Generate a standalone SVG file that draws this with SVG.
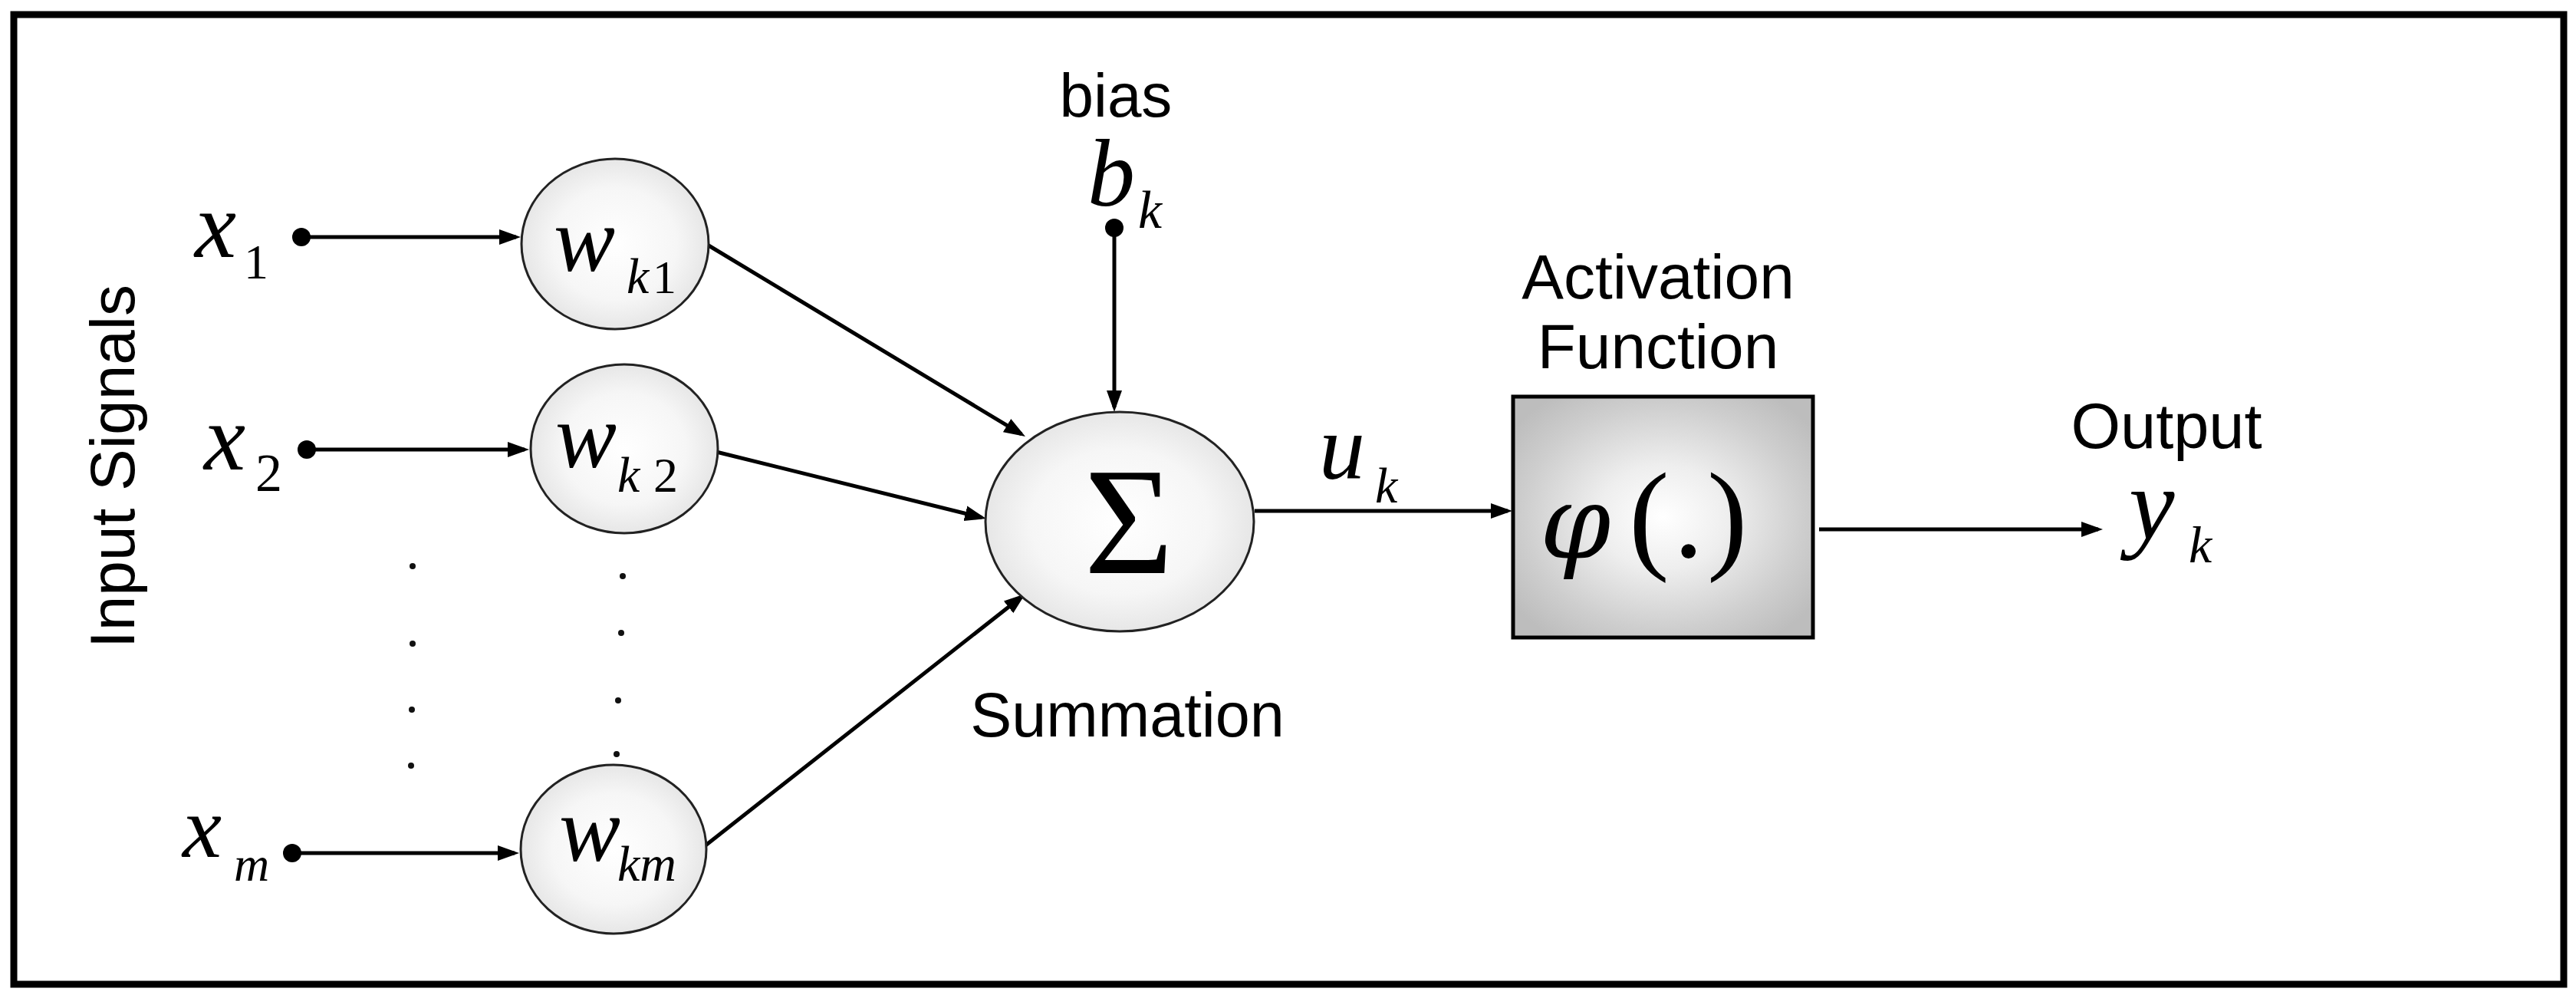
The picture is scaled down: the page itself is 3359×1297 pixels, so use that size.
<svg xmlns="http://www.w3.org/2000/svg" width="3359" height="1297" viewBox="0 0 3359 1297">
<style>
.sans{font-family:"Liberation Sans",Arial,sans-serif;fill:#000}
.ser{font-family:"Liberation Serif","Times New Roman",serif;fill:#000}
.it{font-style:italic}
.wire{stroke:#000;stroke-width:5;fill:none}
.node{fill:url(#ellG);stroke:#222;stroke-width:3}
.term{fill:#000}
.dot{fill:#111}
</style>
<defs>
<radialGradient id="ellG" cx="50%" cy="50%" r="55%">
<stop offset="0" stop-color="#ffffff"/>
<stop offset="0.6" stop-color="#f6f6f6"/>
<stop offset="1" stop-color="#e2e2e2"/>
</radialGradient>
<radialGradient id="boxG" cx="50%" cy="50%" r="62%">
<stop offset="0" stop-color="#ffffff"/>
<stop offset="0.35" stop-color="#eeeeee"/>
<stop offset="0.75" stop-color="#cecece"/>
<stop offset="1" stop-color="#bdbdbd"/>
</radialGradient>
<marker id="arr" markerUnits="userSpaceOnUse" markerWidth="30" markerHeight="22" refX="22" refY="11" orient="auto">
<path d="M0,1 L28,11 L0,21 Z" fill="#000"/>
</marker>
</defs>
<rect x="0" y="0" width="3359" height="1297" fill="#fff"/>
<rect id="frame" x="18" y="19" width="3325" height="1264" fill="none" stroke="#000" stroke-width="9"/>

<text class="sans" font-size="82" text-anchor="middle" transform="translate(175,608) rotate(-90)">Input Signals</text>

<g id="connectors">
<line class="wire" x1="393" y1="309" x2="673" y2="309" marker-end="url(#arr)"/>
<line class="wire" x1="400" y1="586" x2="684" y2="586" marker-end="url(#arr)"/>
<line class="wire" x1="381" y1="1112" x2="671" y2="1112" marker-end="url(#arr)"/>
<line class="wire" x1="1453" y1="297" x2="1453" y2="531" marker-end="url(#arr)"/>
<line class="wire" x1="924" y1="320" x2="1331.9" y2="565.9" marker-end="url(#arr)"/>
<line class="wire" x1="934" y1="589" x2="1280.2" y2="674.6" marker-end="url(#arr)"/>
<line class="wire" x1="920" y1="1102" x2="1332.3" y2="777.7" marker-end="url(#arr)"/>
<line class="wire" x1="1636" y1="666" x2="1966" y2="666" marker-end="url(#arr)"/>
<line class="wire" x1="2372" y1="690" x2="2736" y2="690" marker-end="url(#arr)"/>
</g>

<g id="input-x1">
<circle class="term" cx="393" cy="309" r="12"/>
<text class="ser it" font-size="122" x="254" y="335">x</text>
<text class="ser" font-size="64" x="318" y="363">1</text>
</g>
<g id="input-x2">
<circle class="term" cx="400" cy="586" r="12"/>
<text class="ser it" font-size="122" x="266" y="612">x</text>
<text class="ser" font-size="70" x="333" y="640">2</text>
</g>
<g id="input-xm">
<circle class="term" cx="381" cy="1112" r="12"/>
<text class="ser it" font-size="115" x="238" y="1117">x</text>
<text class="ser it" font-size="64" x="305" y="1148">m</text>
</g>

<g id="ellipsis">
<circle class="dot" cx="538" cy="738" r="4"/>
<circle class="dot" cx="538" cy="839" r="4"/>
<circle class="dot" cx="537" cy="925" r="4"/>
<circle class="dot" cx="536" cy="998" r="4"/>
<circle class="dot" cx="812" cy="751" r="4"/>
<circle class="dot" cx="810" cy="825" r="4"/>
<circle class="dot" cx="806" cy="913" r="4"/>
<circle class="dot" cx="804" cy="983" r="4"/>
</g>

<g id="weight-wk1">
<ellipse class="node" cx="802" cy="318" rx="122" ry="111"/>
<text class="ser it" font-size="120" x="722" y="353">w</text>
<text class="ser it" font-size="66" x="817" y="382">k</text>
<text class="ser" font-size="62" x="851" y="382">1</text>
</g>
<g id="weight-wk2">
<ellipse class="node" cx="814" cy="585" rx="122" ry="110"/>
<text class="ser it" font-size="120" x="724" y="609">w</text>
<text class="ser it" font-size="66" x="805" y="641">k</text>
<text class="ser" font-size="64" x="852" y="641">2</text>
</g>
<g id="weight-wkm">
<ellipse class="node" cx="800" cy="1107" rx="121" ry="110"/>
<text class="ser it" font-size="120" x="729" y="1122">w</text>
<text class="ser it" font-size="66" x="805" y="1148">km</text>
</g>

<g id="bias">
<text class="sans" font-size="80" text-anchor="middle" x="1455" y="152">bias</text>
<text class="ser it" font-size="124" x="1418" y="268">b</text>
<text class="ser it" font-size="70" x="1484" y="297">k</text>
<circle class="term" cx="1453" cy="297" r="12"/>
</g>

<g id="summation">
<ellipse class="node" cx="1460" cy="680" rx="175" ry="143"/>
<text class="ser" font-size="200" text-anchor="middle" x="1472" y="747">Σ</text>
<text class="sans" font-size="81" text-anchor="middle" x="1470" y="960">Summation</text>
</g>

<g id="uk">
<text class="ser it" font-size="120" x="1720" y="624">u</text>
<text class="ser it" font-size="66" x="1793" y="655">k</text>
</g>

<g id="activation">
<text class="sans" font-size="82" text-anchor="middle" x="2162" y="389">Activation</text>
<text class="sans" font-size="82" text-anchor="middle" x="2162" y="480">Function</text>
<rect x="1973" y="517" width="391" height="314" fill="url(#boxG)" stroke="#000" stroke-width="5"/>
<text font-family="'DejaVu Serif',serif" font-style="italic" font-size="132" x="2008" y="727" fill="#000">φ</text>
<text class="ser" font-size="158" x="2124" y="726">(</text>
<text class="ser" font-size="158" x="2182" y="726">.</text>
<text class="ser" font-size="158" x="2226" y="726">)</text>
</g>

<g id="output">
<text class="sans" font-size="83" text-anchor="middle" x="2825" y="584">Output</text>
<text class="ser it" font-size="134" x="2776" y="703">y</text>
<text class="ser it" font-size="68" x="2854" y="733">k</text>
</g>
</svg>
